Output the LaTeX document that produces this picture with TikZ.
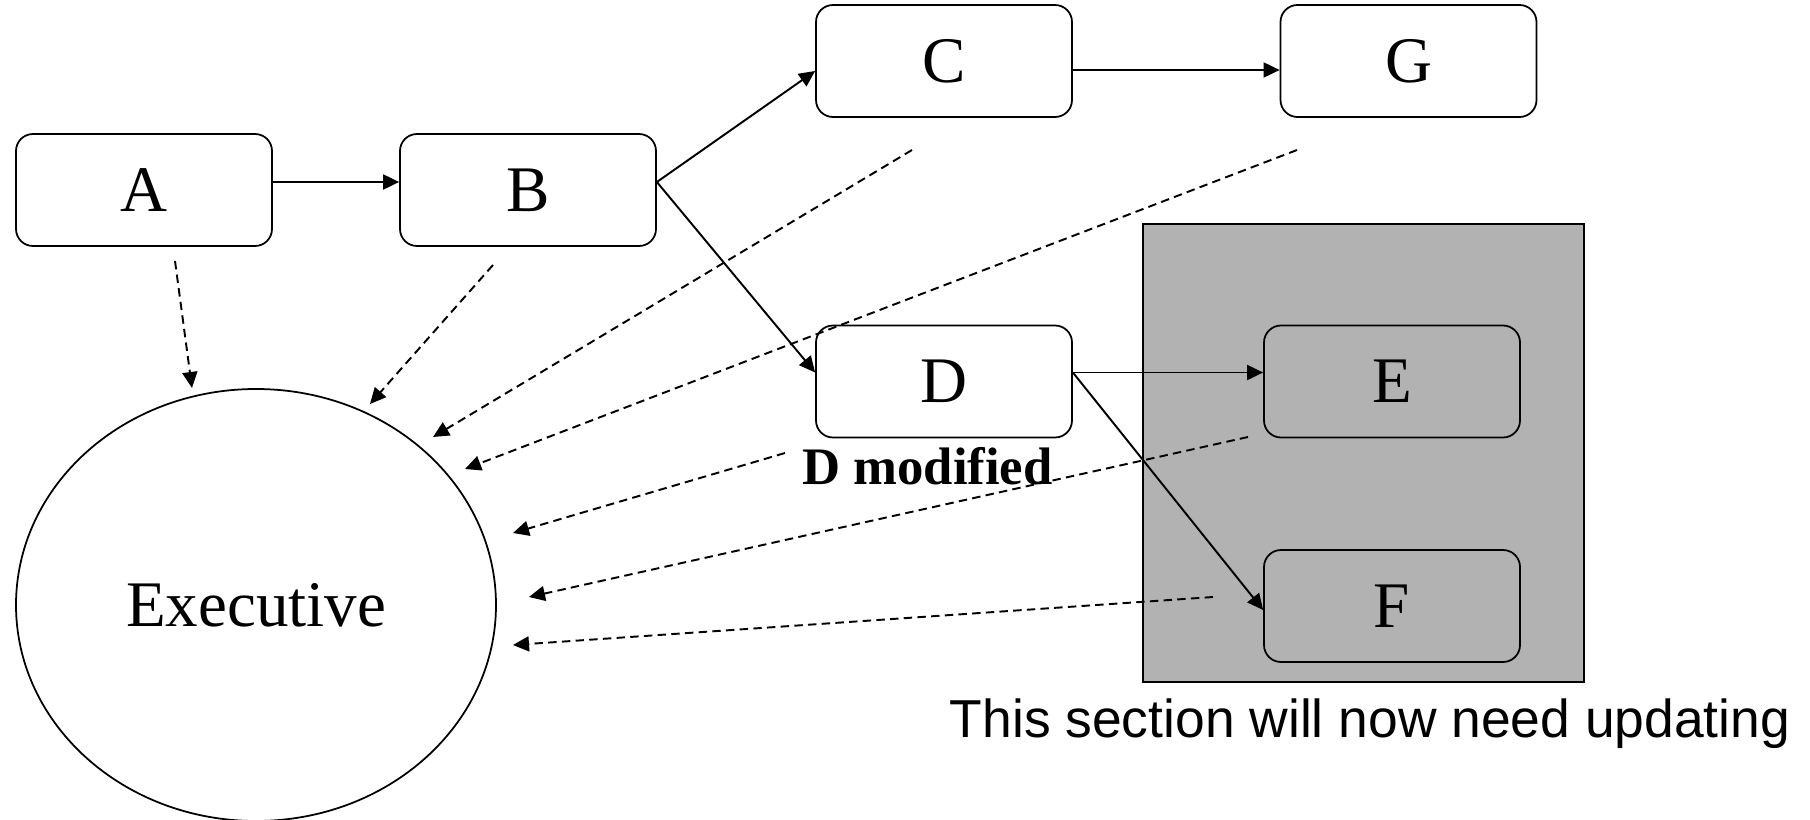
\documentclass[tikz,border=0pt]{standalone}
\usepackage{fontspec}
\setmainfont{Liberation Serif}
\newfontfamily\labelsans{Liberation Sans}
\usetikzlibrary{arrows.meta,shapes.geometric}
\definecolor{Ink}{HTML}{000000}
\definecolor{Shade}{HTML}{B2B2B2}

\tikzset{
  unit/.style={draw=Ink,line width=0.5pt,rounded corners=0.17cm,minimum width=2.56cm,minimum height=1.12cm,inner sep=0pt,font=\fontsize{18.5}{20}\selectfont},
  calls/.style={-{Triangle[length=0.16cm,width=0.15cm]},line width=0.55pt,Ink},
  reports/.style={calls,dash pattern=on 2.4pt off 1.5pt}
}

\begin{document}
\begin{tikzpicture}
  \useasboundingbox (0,0) rectangle (18.10,8.19);
  % the part that has to be redone
  \draw[line width=0.5pt,fill=Shade] (11.43,1.373) rectangle (15.84,5.947);

  \node[unit] (A) at (1.44,6.29) {A};
  \node[unit] (B) at (5.28,6.29) {B};
  \node[unit] (C) at (9.44,7.58) {C};
  \node[unit] (G) at (14.085,7.58) {G};
  \node[unit] (D) at (9.44,4.375) {D};
  \node[unit] (E) at (13.92,4.375) {E};
  \node[unit] (F) at (13.92,2.13) {F};
  \node[ellipse,draw=Ink,line width=0.5pt,minimum width=4.80cm,minimum height=4.32cm,inner sep=0pt,font=\fontsize{18.5}{20}\selectfont] (exec) at (2.56,2.14) {Executive};

  \node[anchor=base,font=\fontsize{15}{17}\selectfont\bfseries] (dmod) at (9.275,3.35) {D modified};
  \node[anchor=base,font=\labelsans\fontsize{15.2}{17}\selectfont] (note) at (13.70,0.82) {This section will now need updating};

  % calls between the units
  \draw[calls] ([yshift=0.08cm]A.east) -- ([yshift=0.08cm]B.west);
  \draw[calls] ([yshift=0.08cm]B.east) -- ([yshift=-0.1cm]C.west);
  \draw[calls] ([yshift=-0.09cm]C.east) -- ([yshift=-0.09cm]G.west);
  \draw[calls] ([yshift=0.08cm]B.east) -- ([yshift=0.09cm]D.west);
  \draw[calls] ([yshift=0.09cm]D.east) -- ([yshift=0.09cm]E.west);
  \draw[calls] ([yshift=0.09cm]D.east) -- ([yshift=-0.04cm]F.west);

  % every unit reports back to the executive
  \coordinate (fromA) at (1.75,5.58);  \coordinate (toA) at (1.92,4.31);
  \coordinate (fromB) at (4.93,5.54);  \coordinate (toB) at (3.70,4.15);
  \coordinate (fromC) at (9.12,6.69);  \coordinate (toC) at (4.33,3.82);
  \coordinate (fromG) at (12.97,6.69); \coordinate (toG) at (4.65,3.50);
  \coordinate (fromD) at (7.85,3.66);  \coordinate (toD) at (5.13,2.86);
  \coordinate (fromE) at (12.48,3.82); \coordinate (toE) at (5.29,2.22);
  \coordinate (fromF) at (12.13,2.22); \coordinate (toF) at (5.13,1.74);
  \draw[reports] (fromA) -- (toA);
  \draw[reports] (fromB) -- (toB);
  \draw[reports] (fromC) -- (toC);
  \draw[reports] (fromG) -- (toG);
  \draw[reports] (fromD) -- (toD);
  \draw[reports] (fromE) -- (toE);
  \draw[reports] (fromF) -- (toF);
\end{tikzpicture}
\end{document}
